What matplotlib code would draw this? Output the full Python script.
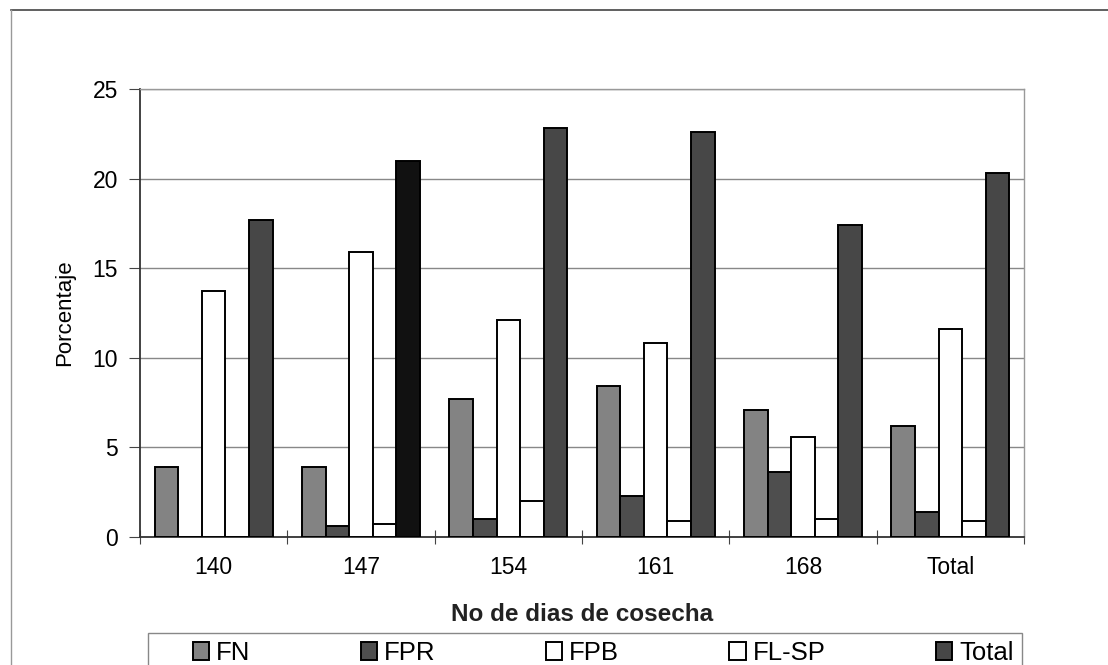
import numpy as np
from matplotlib import pyplot as plt
from matplotlib.lines import Line2D
from matplotlib.patches import Rectangle

plt.rcParams['font.family'] = ['Liberation Sans', 'DejaVu Sans']

categories = ['140', '147', '154', '161', '168', 'Total']
series = ['FN', 'FPR', 'FPB', 'FL-SP', 'Total']
fn = [3.9, 3.9, 7.7, 8.4, 7.1, 6.2]
fpr = [0.0, 0.6, 1.0, 2.3, 3.6, 1.4]
fpb = [13.7, 15.9, 12.1, 10.8, 5.6, 11.6]
flsp = [0.0, 0.7, 2.0, 0.9, 1.0, 0.9]
total = [17.7, 21.0, 22.8, 22.6, 17.4, 20.3]

colors = ['#838383', '#4e4e4e', 'white', 'white', '#474747']

W, H = 1108, 665
fig = plt.figure(figsize=(W / 100, H / 100), dpi=100)
ax = fig.add_axes([140 / W, 1 - 537 / H, 884 / W, 448 / H])

x = np.arange(len(categories))
w = 0.16
for k, (name, vals) in enumerate(zip(series, [fn, fpr, fpb, flsp, total])):
    bars = ax.bar(x + (k - 2) * w, vals, width=w, color=colors[k],
                  edgecolor='black', linewidth=1.4, label=name, zorder=3)
    if name == 'Total':
        # the 147 total bar is printed solid black in the scan
        bars[1].set_facecolor('#111111')

ax.set_xlim(-0.5, len(categories) - 0.5)
ax.set_ylim(0, 25)
ax.set_yticks(np.arange(0, 26, 5))
ax.yaxis.grid(True, color='#888888', linewidth=1.0, zorder=0)

ax.set_xticks(np.arange(len(categories) + 1) - 0.5)
ax.set_xticklabels([])
ax.set_xticks(x, minor=True)
ax.set_xticklabels(categories, minor=True)
ax.tick_params(axis='x', which='major', direction='inout', length=10,
               color='#444444')
ax.tick_params(axis='x', which='minor', length=0, pad=14, labelsize=16.5)
ax.tick_params(axis='y', direction='out', length=8, pad=8, labelsize=16.5,
               color='#444444')

for s in ['left', 'bottom']:
    ax.spines[s].set_color('#333333')
    ax.spines[s].set_linewidth(1.3)
for s in ['top', 'right']:
    ax.spines[s].set_color('#999999')
    ax.spines[s].set_linewidth(1.0)

ax.set_ylabel('Porcentaje', fontsize=16, labelpad=12)
ax.set_xlabel('No de dias de cosecha', fontsize=17.5, fontweight='bold',
              labelpad=17, color='#222222')

# legend frame runs past the bottom edge of the scan
fig.add_artist(Rectangle((148 / W, -0.05), 874 / W, 0.05 + 32 / H,
                         transform=fig.transFigure, facecolor='white',
                         edgecolor='#888888', linewidth=1.0, zorder=1))
handles, labels = ax.get_legend_handles_labels()
leg = fig.legend(handles, labels, ncol=5, loc='upper center',
                 bbox_to_anchor=(603 / W, 1 - 641 / H),
                 fontsize=18.5, frameon=False,
                 handlelength=0.65, handleheight=0.65, handletextpad=0.25,
                 columnspacing=4.3, borderaxespad=0, borderpad=0.0)
leg.set_zorder(5)

# scan frame around the chart
fig.add_artist(Line2D([11 / W, 1], [1 - 10 / H] * 2, color='#444444',
                      linewidth=1.2, transform=fig.transFigure))
fig.add_artist(Line2D([11 / W] * 2, [0, 1 - 10 / H], color='#999999',
                      linewidth=1.0, transform=fig.transFigure))

fig.savefig('out.png', dpi=100)
